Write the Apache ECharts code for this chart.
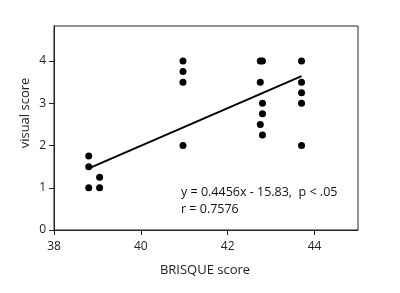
<!DOCTYPE html>
<html>
<head>
<meta charset="utf-8">
<script src="https://cdn.jsdelivr.net/npm/echarts@6/dist/echarts.min.js"></script>
<style>html,body{margin:0;padding:0;background:#fff;}#c{width:400px;height:293px;}</style>
</head>
<body>
<div id="c"></div>
<script>
const xValues = [38.8, 38.8, 38.8, 39.05, 39.05, 40.97, 40.97, 40.97, 40.97, 42.75, 42.75, 42.75, 42.8, 42.8, 42.8, 42.8, 43.7, 43.7, 43.7, 43.7, 43.7];
const yValues = [1.75, 1.5, 1.0, 1.25, 1.0, 4.0, 3.75, 3.5, 2.0, 4.0, 3.5, 2.5, 4.0, 3.0, 2.75, 2.25, 4.0, 3.5, 3.25, 3.0, 2.0];
const fitSlope = 0.4456;
const fitIntercept = -15.83;
const fitRange = [38.8, 43.7];
const xTicks = [38, 40, 42, 44];
const yTicks = [0, 1, 2, 3, 4];
const annotation = ['y = 0.4456x - 15.83,  p < .05', 'r = 0.7576'];

const points = xValues.map((x, i) => [x, yValues[i]]);
const fitLine = fitRange.map(x => [x, fitSlope * x + fitIntercept]);
const font = '"Open Sans", sans-serif';

const chart = echarts.init(document.getElementById('c'), null, {renderer: 'canvas'});
chart.setOption({
  animation: false,
  backgroundColor: '#fff',
  grid: {left: 54, right: 42, top: 26, bottom: 63, show: true, borderColor: '#222', borderWidth: 1, backgroundColor: 'transparent'},
  xAxis: {
    type: 'value', min: 38, max: 45, interval: 2,
    splitLine: {show: false},
    axisLine: {show: true, onZero: false, lineStyle: {color: '#222', width: 1}},
    axisTick: {show: true, length: 5, customValues: xTicks, lineStyle: {color: '#222'}},
    axisLabel: {customValues: xTicks, color: '#222', fontFamily: font, fontSize: 12, margin: 11}
  },
  yAxis: {
    type: 'value', min: 0, max: 4.83, interval: 1,
    splitLine: {show: false},
    axisLine: {show: true, onZero: false, lineStyle: {color: '#222', width: 1}},
    axisTick: {show: true, length: 5, customValues: yTicks, lineStyle: {color: '#222'}},
    axisLabel: {customValues: yTicks, color: '#222', fontFamily: font, fontSize: 12, margin: 8}
  },
  graphic: [
    {type: 'text', left: 181, top: 186, style: {text: annotation[0], fill: '#111', font: '12.5px ' + font}},
    {type: 'text', left: 181, top: 203, style: {text: annotation[1], fill: '#111', font: '12.5px ' + font}},
    {type: 'text', x: 205, y: 270, style: {text: 'BRISQUE score', fill: '#222', font: '13px ' + font, align: 'center', verticalAlign: 'middle'}},
    {type: 'text', x: 25, y: 113, rotation: Math.PI / 2, style: {text: 'visual score', fill: '#222', font: '13px ' + font, align: 'center', verticalAlign: 'middle'}}
  ],
  series: [
    {type: 'scatter', data: points, symbol: 'circle', symbolSize: 7, itemStyle: {color: '#000', opacity: 1}, z: 3},
    {type: 'line', data: fitLine, showSymbol: false, symbol: 'none', lineStyle: {color: '#000', width: 2}, z: 2}
  ]
});
</script>
</body>
</html>
